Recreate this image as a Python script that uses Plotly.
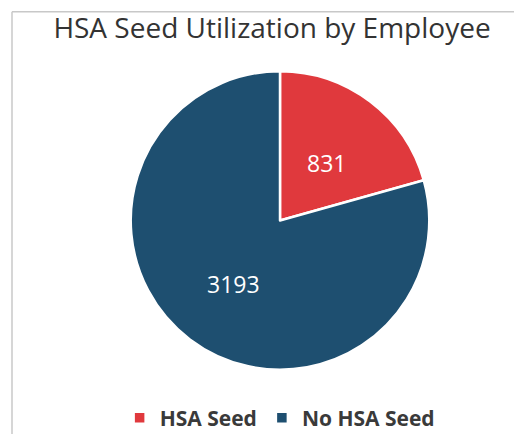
import math
import plotly.graph_objects as go

# Employee counts by HSA seed status
categories = ["HSA Seed", "No HSA Seed"]
employees = [831, 3193]
slice_colors = ["#E0393D", "#1E4F70"]

W, H = 514, 439

# pie geometry in pixels
cx, cy, R = 280, 223, 151

fig = go.Figure(
    go.Pie(
        labels=categories,
        values=employees,
        sort=False,
        direction="clockwise",
        rotation=0,
        marker=dict(colors=slice_colors, line=dict(color="white", width=2.5)),
        textinfo="none",
        hoverinfo="label+value",
        domain=dict(x=[(cx - R) / W, (cx + R) / W],
                    y=[1 - (cy + R) / H, 1 - (cy - R) / H]),
    )
)

# value labels placed halfway out along each slice's bisector
total = sum(employees)
start = 0.0
annotations = []
for v in employees:
    frac = v / total
    mid = (start + frac / 2) * 2 * math.pi  # clockwise from 12 o'clock
    start += frac
    px = cx + 0.51 * R * math.sin(mid)
    py = cy + 3 - 0.51 * R * math.cos(mid)
    annotations.append(dict(
        x=px / W, y=1 - py / H, xref="paper", yref="paper",
        text=str(v), showarrow=False, xanchor="center", yanchor="middle",
        font=dict(family="Open Sans", size=23, color="white"),
    ))

fig.update_layout(
    width=W,
    height=H,
    margin=dict(l=0, r=0, t=0, b=0),
    paper_bgcolor="white",
    plot_bgcolor="white",
    title=dict(
        text="HSA Seed Utilization by Employee",
        x=272 / W,
        xanchor="center",
        y=1 - 28 / H,
        yanchor="middle",
        font=dict(family="Open Sans", size=28, color="#333333"),
    ),
    showlegend=True,
    legend=dict(
        orientation="h",
        x=0.545,
        xanchor="center",
        y=1 - 423 / H,
        yanchor="middle",
        font=dict(family="Open Sans", size=21, color="#3A3A3A", weight="bold"),
        itemclick=False,
    ),
    annotations=annotations,
    shapes=[
        # chart area frame (left and top edges)
        dict(type="line", xref="paper", yref="paper",
             x0=12 / W, x1=12 / W, y0=0, y1=1 - 12 / H,
             line=dict(color="#C8C8C8", width=1.5)),
        dict(type="line", xref="paper", yref="paper",
             x0=12 / W, x1=1, y0=1 - 12 / H, y1=1 - 12 / H,
             line=dict(color="#C8C8C8", width=1.5)),
    ],
)

fig.write_html("out.html")
